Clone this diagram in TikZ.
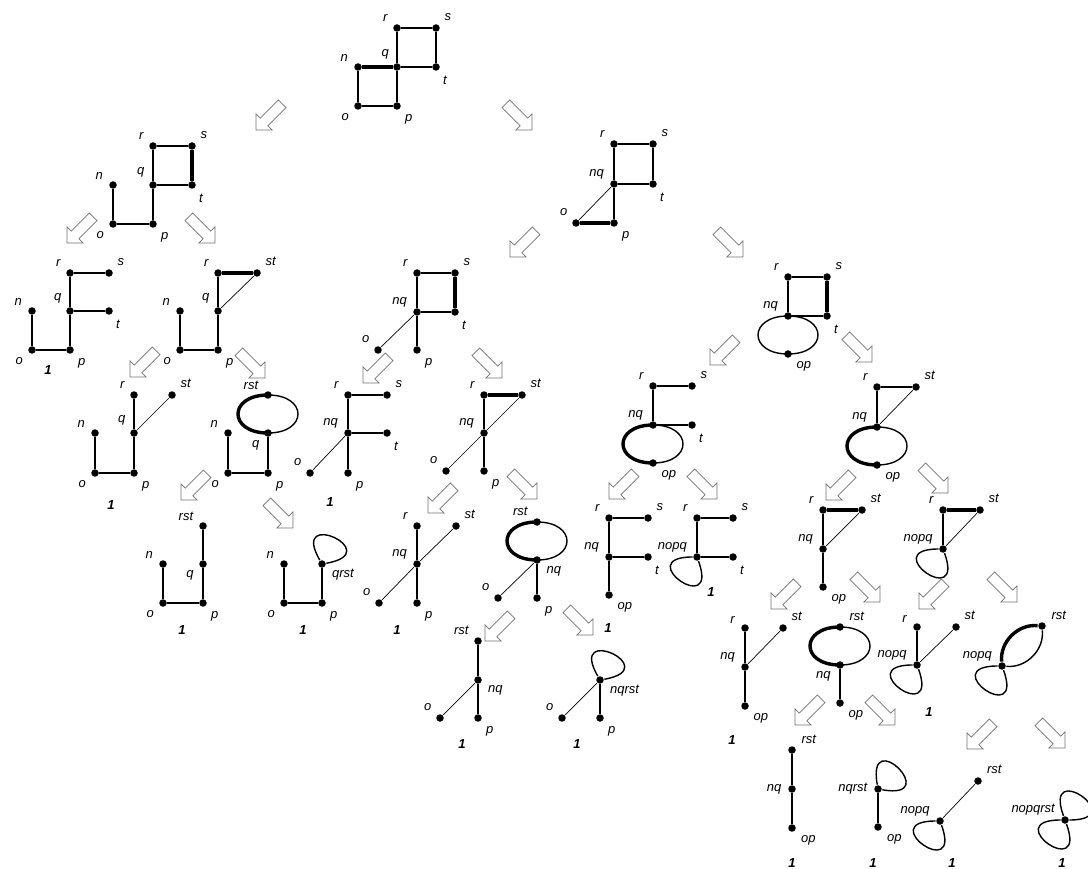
\documentclass[tikz,border=0pt]{standalone}
\usepackage{fontspec}
\setmainfont{Liberation Sans}
\usetikzlibrary{shapes.arrows}
\tikzset{
  vtx/.style={circle,fill,inner sep=0pt,minimum size=7.5pt},
  every label/.style={font=\itshape\fontsize{13}{15}\selectfont,inner sep=1.5pt},
  heavy/.style={line width=3.4pt},
  fine/.style={line width=0.7pt},
  lobe/.style={out=#1,in=#1,looseness=2.7},
  curl/.style 2 args={out=#1,in=#2,min distance=62pt},
  one/.style={font=\bfseries\itshape\fontsize{13}{15}\selectfont},
  blk/.style={single arrow,draw=black!55,fill=white,line width=0.8pt,
    minimum height=37pt,inner xsep=0pt,inner ysep=5pt,single arrow head extend=6pt},
  sw/.style={blk,rotate=-135},
  se/.style={blk,rotate=-45},
}
\begin{document}
\begin{tikzpicture}[x=1pt,y=-1pt,line width=1.4pt,label distance=4pt]
\useasboundingbox (0,0) rectangle (1088,869);

\node[vtx,label=150:r] (g0r) at (397,28) {};
\node[vtx,label=40:s] (g0s) at (436,28) {};
\node[vtx,label=160:n] (g0n) at (358,67) {};
\node[vtx,label=135:q] (g0q) at (397,67) {};
\node[vtx,label=-55:t] (g0t) at (436,67) {};
\node[vtx,label=-145:o] (g0o) at (358,106) {};
\node[vtx,label=-45:p] (g0p) at (397,106) {};
\path (g0r) edge (g0s) edge (g0q)
      (g0t) edge (g0s) edge (g0q)
      (g0p) edge (g0q) edge (g0o)
      (g0n) edge (g0o) edge[heavy] (g0q);

\node[vtx,label=150:r] (g1r) at (153,146) {};
\node[vtx,label=40:s] (g1s) at (192,146) {};
\node[vtx,label=160:n] (g1n) at (113,185) {};
\node[vtx,label=140:q] (g1q) at (153,185) {};
\node[vtx,label=-55:t] (g1t) at (192,185) {};
\node[vtx,label=-145:o] (g1o) at (113,224) {};
\node[vtx,label=-45:p] (g1p) at (153,224) {};
\path (g1r) edge (g1s) edge (g1q)
      (g1t) edge[heavy] (g1s) edge (g1q)
      (g1p) edge (g1q) edge (g1o)
      (g1n) edge (g1o);

\node[vtx,label=150:r] (g2r) at (614,144) {};
\node[vtx,label=40:s] (g2s) at (653,144) {};
\node[vtx,label=160:nq] (g2nq) at (614,184) {};
\node[vtx,label=-55:t] (g2t) at (653,184) {};
\node[vtx,label=140:o] (g2o) at (576,223) {};
\node[vtx,label=-45:p] (g2p) at (614,223) {};
\path (g2r) edge (g2s) edge (g2nq)
      (g2t) edge (g2s) edge (g2nq)
      (g2p) edge (g2nq) edge[heavy] (g2o)
      (g2o) edge[fine] (g2nq);

\node[vtx,label=150:r] (g3r) at (70,273) {};
\node[vtx,label=40:s] (g3s) at (109,273) {};
\node[vtx,label=160:n] (g3n) at (32,311) {};
\node[vtx,label=140:q] (g3q) at (70,311) {};
\node[vtx,label=-55:t] (g3t) at (109,311) {};
\node[vtx,label=-145:o] (g3o) at (32,350) {};
\node[vtx,label=-45:p] (g3p) at (70,350) {};
\node[one] (g3one) at (48,370) {1};
\path (g3r) edge (g3s) edge (g3q)
      (g3q) edge (g3t) edge (g3p)
      (g3o) edge (g3p) edge (g3n);

\node[vtx,label=150:r] (g4r) at (218,273) {};
\node[vtx,label=40:st] (g4st) at (257,273) {};
\node[vtx,label=160:n] (g4n) at (180,311) {};
\node[vtx,label=140:q] (g4q) at (218,311) {};
\node[vtx,label=-145:o] (g4o) at (180,350) {};
\node[vtx,label=-45:p] (g4p) at (218,350) {};
\path (g4r) edge[heavy] (g4st) edge (g4q)
      (g4q) edge[fine] (g4st) edge (g4p)
      (g4o) edge (g4p) edge (g4n);

\node[vtx,label=150:r] (g5r) at (417,273) {};
\node[vtx,label=40:s] (g5s) at (455,273) {};
\node[vtx,label=160:nq] (g5nq) at (417,312) {};
\node[vtx,label=-55:t] (g5t) at (455,312) {};
\node[vtx,label=140:o] (g5o) at (378,350) {};
\node[vtx,label=-45:p] (g5p) at (417,350) {};
\path (g5r) edge (g5s) edge (g5nq)
      (g5t) edge[heavy] (g5s) edge (g5nq)
      (g5nq) edge (g5p) edge[fine] (g5o);

\node[vtx,label=150:r] (g6r) at (788,277) {};
\node[vtx,label=40:s] (g6s) at (827,277) {};
\node[vtx,label=160:nq] (g6nq) at (788,316) {};
\node[vtx,label=-55:t] (g6t) at (827,316) {};
\node[vtx,label=-40:op] (g6op) at (788,354) {};
\path (g6r) edge (g6s) edge (g6nq)
      (g6t) edge[heavy] (g6s) edge (g6nq)
      (g6nq.center) edge[lobe=180] (g6op.center) edge[lobe=0] (g6op.center);

\node[vtx,label=150:r] (g7r) at (134,395) {};
\node[vtx,label=40:st] (g7st) at (172,395) {};
\node[vtx,label=160:n] (g7n) at (95,433) {};
\node[vtx,label=140:q] (g7q) at (134,433) {};
\node[vtx,label=-145:o] (g7o) at (95,473) {};
\node[vtx,label=-45:p] (g7p) at (134,473) {};
\node[one] (g7one) at (111,505) {1};
\path (g7q) edge (g7r) edge[fine] (g7st) edge (g7p)
      (g7o) edge (g7p) edge (g7n);

\node[vtx,label=155:rst] (g8rst) at (268,395) {};
\node[vtx,label=160:n] (g8n) at (228,433) {};
\node[vtx,label=-140:q] (g8q) at (268,433) {};
\node[vtx,label=-145:o] (g8o) at (228,473) {};
\node[vtx,label=-45:p] (g8p) at (268,473) {};
\path (g8rst.center) edge[heavy,lobe=180] (g8q.center) edge[lobe=0] (g8q.center)
      (g8q) edge (g8p)
      (g8o) edge (g8p) edge (g8n);

\node[vtx,label=150:r] (g9r) at (348,395) {};
\node[vtx,label=40:s] (g9s) at (387,395) {};
\node[vtx,label=160:nq] (g9nq) at (348,433) {};
\node[vtx,label=-55:t] (g9t) at (387,433) {};
\node[vtx,label=140:o] (g9o) at (310,473) {};
\node[vtx,label=-45:p] (g9p) at (348,473) {};
\node[one] (g9one) at (330,502) {1};
\path (g9r) edge (g9s) edge (g9nq)
      (g9nq) edge (g9t) edge (g9p) edge[fine] (g9o);

\node[vtx,label=150:r] (g10r) at (484,395) {};
\node[vtx,label=40:st] (g10st) at (522,395) {};
\node[vtx,label=160:nq] (g10nq) at (484,433) {};
\node[vtx,label=140:o] (g10o) at (446,471) {};
\node[vtx,label=-45:p] (g10p) at (484,471) {};
\path (g10r) edge[heavy] (g10st) edge (g10nq)
      (g10nq) edge[fine] (g10st) edge (g10p) edge[fine] (g10o);

\node[vtx,label=150:r] (g11r) at (653,386) {};
\node[vtx,label=40:s] (g11s) at (692,386) {};
\node[vtx,label=160:nq] (g11nq) at (653,425) {};
\node[vtx,label=-55:t] (g11t) at (692,425) {};
\node[vtx,label=-40:op] (g11op) at (653,463) {};
\path (g11r) edge (g11s) edge (g11nq)
      (g11nq) edge (g11t)
      (g11nq.center) edge[heavy,lobe=180] (g11op.center) edge[lobe=0] (g11op.center);

\node[vtx,label=150:r] (g12r) at (877,387) {};
\node[vtx,label=40:st] (g12st) at (916,387) {};
\node[vtx,label=160:nq] (g12nq) at (877,427) {};
\node[vtx,label=-40:op] (g12op) at (877,465) {};
\path (g12r) edge (g12st) edge (g12nq)
      (g12nq) edge[fine] (g12st)
      (g12nq.center) edge[heavy,lobe=180] (g12op.center) edge[lobe=0] (g12op.center);

\node[vtx,label=155:rst] (g13rst) at (203,526) {};
\node[vtx,label=160:n] (g13n) at (163,564) {};
\node[vtx,label=-150:q] (g13q) at (203,564) {};
\node[vtx,label=-145:o] (g13o) at (163,603) {};
\node[vtx,label=-45:p] (g13p) at (203,603) {};
\node[one] (g13one) at (182,630) {1};
\path (g13q) edge (g13rst) edge (g13p)
      (g13o) edge (g13p) edge (g13n);

\node[vtx,label=160:n] (g14n) at (284,564) {};
\node[vtx,label=-20:qrst] (g14qrst) at (322,564) {};
\node[vtx,label=-145:o] (g14o) at (284,603) {};
\node[vtx,label=-45:p] (g14p) at (322,603) {};
\node[one] (g14one) at (303,630) {1};
\path (g14qrst) edge[curl={120}{10}] (g14qrst) edge (g14p)
      (g14o) edge (g14p) edge (g14n);

\node[vtx,label=150:r] (g15r) at (417,526) {};
\node[vtx,label=40:st] (g15st) at (456,526) {};
\node[vtx,label=160:nq] (g15nq) at (417,564) {};
\node[vtx,label=140:o] (g15o) at (379,603) {};
\node[vtx,label=-45:p] (g15p) at (417,603) {};
\node[one] (g15one) at (397,630) {1};
\path (g15nq) edge (g15r) edge (g15p) edge[fine] (g15st) edge[fine] (g15o);

\node[vtx,label=150:rst] (g16rst) at (537,522) {};
\node[vtx,label=-30:nq] (g16nq) at (537,560) {};
\node[vtx,label=140:o] (g16o) at (498,598) {};
\node[vtx,label=-45:p] (g16p) at (537,598) {};
\path (g16rst.center) edge[heavy,lobe=180] (g16nq.center) edge[lobe=0] (g16nq.center)
      (g16nq) edge (g16p) edge[fine] (g16o);

\node[vtx,label=150:r] (g17r) at (609,518) {};
\node[vtx,label=40:s] (g17s) at (648,518) {};
\node[vtx,label=160:nq] (g17nq) at (609,557) {};
\node[vtx,label=-55:t] (g17t) at (648,557) {};
\node[vtx,label=-40:op] (g17op) at (609,595) {};
\node[one] (g17one) at (608,628) {1};
\path (g17r) edge (g17s) edge (g17nq)
      (g17nq) edge (g17t) edge (g17op);

\node[vtx,label=150:r] (g18r) at (697,518) {};
\node[vtx,label=40:s] (g18s) at (733,518) {};
\node[vtx,label=160:nopq] (g18x) at (697,557) {};
\node[vtx,label=-55:t] (g18t) at (733,557) {};
\node[one] (g18one) at (711,592) {1};
\path (g18r) edge (g18s) edge (g18x)
      (g18x) edge (g18t) edge[curl={-70}{180}] (g18x);

\node[vtx,label=150:r] (g19r) at (823,510) {};
\node[vtx,label=40:st] (g19st) at (862,510) {};
\node[vtx,label=160:nq] (g19nq) at (823,549) {};
\node[vtx,label=-40:op] (g19op) at (823,587) {};
\path (g19r) edge[heavy] (g19st) edge (g19nq)
      (g19nq) edge[fine] (g19st) edge (g19op);

\node[vtx,label=150:r] (g20r) at (943,510) {};
\node[vtx,label=40:st] (g20st) at (980,510) {};
\node[vtx,label=165:nopq] (g20x) at (943,549) {};
\path (g20r) edge[heavy] (g20st) edge (g20x)
      (g20x) edge[fine] (g20st) edge[curl={-70}{180}] (g20x);

\node[vtx,label=165:r] (g21r) at (745,628) {};
\node[vtx,label=40:st] (g21st) at (783,628) {};
\node[vtx,label=160:nq] (g21nq) at (745,667) {};
\node[vtx,label=-40:op] (g21op) at (745,706) {};
\node[one] (g21one) at (732,740) {1};
\path (g21nq) edge (g21r) edge[fine] (g21st) edge (g21op);

\node[vtx,label=30:rst] (g22rst) at (840,627) {};
\node[vtx,label=-150:nq] (g22nq) at (840,665) {};
\node[vtx,label=-40:op] (g22op) at (840,703) {};
\path (g22rst.center) edge[heavy,lobe=180] (g22nq.center) edge[lobe=0] (g22nq.center)
      (g22nq) edge (g22op);

\node[vtx,label=165:r] (g23r) at (917,627) {};
\node[vtx,label=40:st] (g23st) at (956,627) {};
\node[vtx,label=165:nopq] (g23x) at (917,665) {};
\node[one] (g23one) at (929,712) {1};
\path (g23x) edge (g23r) edge[fine] (g23st) edge[curl={-70}{180}] (g23x);

\node[vtx,label=30:rst] (g24rst) at (1042,626) {};
\node[vtx,label=160:nopq] (g24x) at (1002,666) {};
\path (g24x) edge[heavy,bend left=50] (g24rst) edge[bend right=50] (g24rst)
      edge[curl={-70}{180}] (g24x);

\node[vtx,label=150:rst] (g29rst) at (478,641) {};
\node[vtx,label=-20:nq] (g29nq) at (478,680) {};
\node[vtx,label=140:o] (g29o) at (440,718) {};
\node[vtx,label=-45:p] (g29p) at (478,718) {};
\node[one] (g29one) at (462,744) {1};
\path (g29nq) edge (g29rst) edge (g29p) edge[fine] (g29o);

\node[vtx,label=-20:nqrst] (g30x) at (600,680) {};
\node[vtx,label=140:o] (g30o) at (562,718) {};
\node[vtx,label=-45:p] (g30p) at (600,718) {};
\node[one] (g30one) at (577,744) {1};
\path (g30x) edge[curl={120}{10}] (g30x) edge (g30p) edge[fine] (g30o);

\node[vtx,label=30:rst] (g25rst) at (792,750) {};
\node[vtx,label=180:nq] (g25nq) at (792,789) {};
\node[vtx,label=-35:op] (g25op) at (792,828) {};
\node[one] (g25one) at (792,863) {1};
\path (g25nq) edge (g25rst) edge (g25op);

\node[vtx,label=180:nqrst] (g26x) at (878,789) {};
\node[vtx,label=-35:op] (g26op) at (878,827) {};
\node[one] (g26one) at (873,863) {1};
\path (g26x) edge[curl={100}{-10}] (g26x) edge (g26op);

\node[vtx,label=35:rst] (g27rst) at (978,781) {};
\node[vtx,label=165:nopq] (g27x) at (940,821) {};
\node[one] (g27one) at (952,863) {1};
\path (g27x) edge[fine] (g27rst) edge[curl={-70}{180}] (g27x);

\node[vtx,label=160:nopqrst] (g28x) at (1065,820) {};
\node[one] (g28one) at (1062,863) {1};
\path (g28x) edge[curl={110}{0}] (g28x) edge[curl={-70}{180}] (g28x);

\node[sw] (a1) at (271,115) {};
\node[se] (a2) at (517,115) {};
\node[sw] (a3) at (82,228) {};
\node[se] (a4) at (200,228) {};
\node[sw] (a5) at (525,242) {};
\node[se] (a6) at (728,242) {};
\node[sw] (a7) at (145,362) {};
\node[se] (a8) at (250,363) {};
\node[sw] (a9) at (378,368) {};
\node[se] (a10) at (487,363) {};
\node[sw] (a11) at (725,350) {};
\node[se] (a12) at (857,347) {};
\node[sw] (a13) at (196,485) {};
\node[se] (a14) at (278,513) {};
\node[sw] (a15) at (443,498) {};
\node[se] (a16) at (522,484) {};
\node[sw] (a17) at (624,484) {};
\node[se] (a18) at (702,484) {};
\node[sw] (a19) at (841,485) {};
\node[se] (a20) at (933,478) {};
\node[sw] (a21) at (500,626) {};
\node[se] (a22) at (578,620) {};
\node[sw] (a23) at (786,594) {};
\node[se] (a24) at (865,587) {};
\node[sw] (a25) at (934,594) {};
\node[se] (a26) at (1002,587) {};
\node[sw] (a27) at (810,710) {};
\node[se] (a28) at (880,710) {};
\node[sw] (a29) at (982,734) {};
\node[se] (a30) at (1050,733) {};
\end{tikzpicture}
\end{document}
